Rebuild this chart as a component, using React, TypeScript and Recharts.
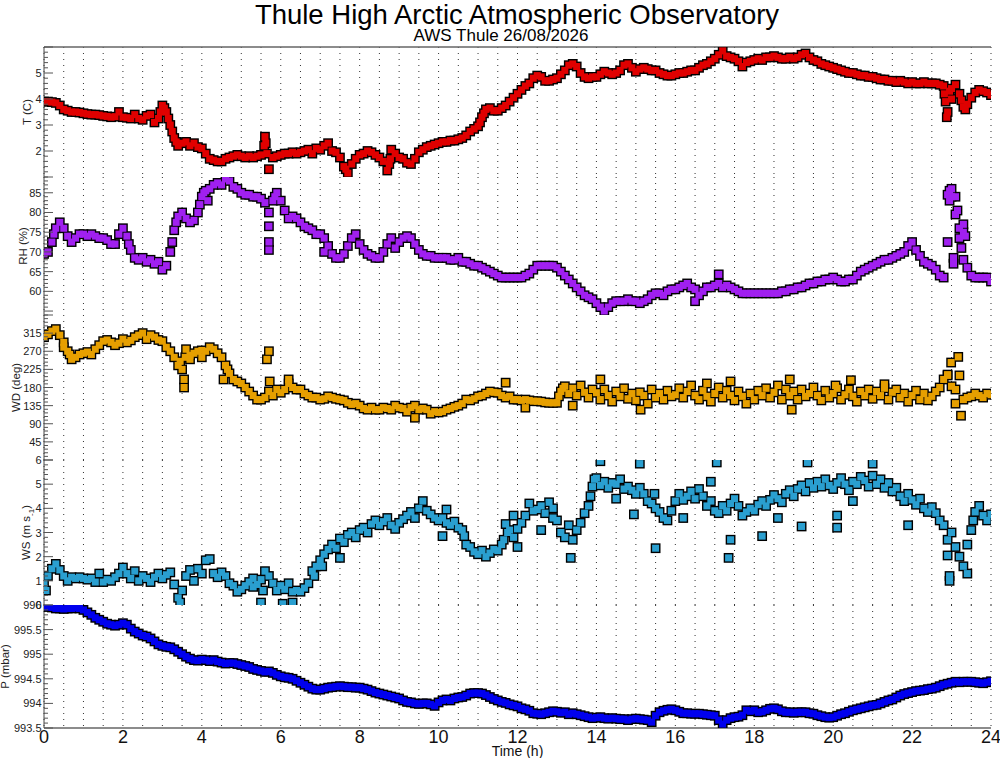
import React from 'react';
import { ScatterChart, Scatter, XAxis, YAxis, CartesianGrid, ReferenceLine } from 'recharts';

const FONT = '"Liberation Sans", Arial, Helvetica, sans-serif';
const WIDTH = 1000;
const RIGHT_GAP = 9;
const PAD = 8; // room above/below each panel so edge tick labels are not cut

// time axis (hours), data sampled every 0.1 h
const HALF_HOURS = Array.from({ length: 49 }, (_, i) => i / 2);
const HOUR_LABELS = [0, 2, 4, 6, 8, 10, 12, 14, 16, 18, 20, 22, 24];

const T_VALUES = [
  3.9, 3.9, 3.88, 3.85, 3.75, 3.6, 3.55, 3.5, 3.5, 3.48,
  3.45, 3.42, 3.4, 3.4, 3.38, 3.35, 3.33, 3.3, 3.32, 3.5,
  3.3, 3.28, 3.25, 3.4, 3.25, 3.2, 3.35, 3.4, 3.1, 3.25,
  3.75, 3.5, 3.0, 2.5, 2.2, 2.3, 2.35, 2.2, 2.3, 2.15,
  2.1, 1.9, 1.7, 1.65, 1.6, 1.6, 1.7, 1.75, 1.8, 1.85,
  1.8, 1.75, 1.8, 1.75, 1.8, 1.85, 2.55, 1.3, 1.75, 1.8,
  1.85, 1.9, 1.9, 1.95, 1.9, 1.95, 2.0, 2.05, 1.9, 2.1,
  2.05, 2.2, 2.3, 2.0, 1.95, 1.75, 1.4, 1.15, 1.5, 1.7,
  1.85, 1.9, 2.0, 1.95, 1.85, 1.75, 1.6, 1.25, 2.05, 1.9,
  1.75, 1.7, 1.55, 1.5, 1.7, 1.95, 2.05, 2.15, 2.2, 2.25,
  2.3, 2.35, 2.35, 2.4, 2.4, 2.45, 2.5, 2.6, 2.75, 2.85,
  2.95, 3.3, 3.6, 3.65, 3.55, 3.55, 3.65, 3.75, 3.9, 4.05,
  4.2, 4.35, 4.5, 4.6, 4.8, 4.9, 4.85, 4.7, 4.7, 4.75,
  4.8, 4.95, 5.1, 5.3, 5.35, 5.25, 5.0, 4.85, 4.8, 4.85,
  4.85, 4.95, 5.05, 5.0, 4.95, 5.0, 5.1, 5.3, 5.35, 5.2,
  5.05, 5.15, 5.2, 5.15, 5.1, 5.1, 5.0, 4.95, 4.9, 4.9,
  4.95, 5.0, 5.0, 5.05, 5.1, 5.1, 5.2, 5.3, 5.35, 5.45,
  5.55, 5.7, 5.85, 5.65, 5.6, 5.55, 5.45, 5.25, 5.4, 5.45,
  5.5, 5.55, 5.5, 5.6, 5.6, 5.65, 5.6, 5.55, 5.55, 5.6,
  5.55, 5.6, 5.7, 5.75, 5.6, 5.5, 5.45, 5.35, 5.3, 5.25,
  5.2, 5.15, 5.1, 5.05, 5.0, 5.0, 4.95, 4.9, 4.9, 4.85,
  4.85, 4.8, 4.75, 4.75, 4.7, 4.7, 4.65, 4.7, 4.65, 4.6,
  4.65, 4.6, 4.6, 4.65, 4.6, 4.6, 4.6, 4.55, 4.5, 3.5,
  4.0, 4.55, 4.2, 3.7, 3.8, 4.05, 4.25, 4.35, 4.3, 4.25,
  4.15,
];
const T_EXTRA = [
  [22.85, 3.9], [22.88, 3.3], [22.95, 4.3], [23.0, 4.4], [5.62, 2.3], [8.75, 1.5], [7.65, 1.3],
  [2.95, 3.5], [3.05, 3.65], [3.15, 3.25], [3.25, 2.75], [3.35, 2.35], [11.05, 3.1], [11.15, 3.45],
  [5.65, 1.9], [5.58, 2.2], [8.78, 1.7], [22.82, 4.2], [23.25, 3.95], [23.35, 3.6],
];

const RH_VALUES = [
  69.5, 70, 72.5, 76, 77.5, 76, 74, 72.5, 73.5, 74.5,
  74.5, 74, 74.5, 74, 73.5, 73.5, 73, 72, 72, 74.5,
  76, 74, 70.5, 68.5, 68, 68.5, 67.5, 68, 67, 67.5,
  65.5, 66.5, 70, 75.5, 79, 80, 78.5, 77.5, 78, 80,
  84, 85.5, 86, 87, 87.5, 87, 88.5, 88, 86.5, 86,
  85, 84.5, 84.5, 84, 84, 83.5, 82.5, 80, 83, 85,
  83, 80.5, 78.5, 79, 78.5, 77.5, 76.5, 76, 75.5, 74.5,
  74.5, 73.5, 71.5, 69.5, 68.5, 68.5, 69.5, 71.5, 73.5, 74.5,
  72, 70.5, 69.5, 69, 68.5, 68.5, 70, 72, 73.5, 71,
  72.5, 73.5, 74, 73.5, 72, 70.5, 69.5, 69, 69, 68.5,
  68.5, 68.5, 68.5, 68, 68, 68.5, 67.5, 67.5, 67, 66.5,
  66.5, 66, 65.5, 65, 64.5, 64, 63.5, 63.5, 63.5, 63.5,
  63.5, 63.5, 64, 64.5, 65.5, 66.5, 66.5, 66.5, 66.5, 66.5,
  66, 65, 64, 63, 62, 61, 60, 59, 58.5, 58,
  57, 56, 55, 56, 57, 57.5, 57.5, 57.5, 58, 57.5,
  57.5, 57, 57.5, 58, 59, 59.5, 59.5, 59, 60, 60.5,
  60.5, 61, 61.5, 62, 61, 60.5, 59, 60, 61, 61,
  61.5, 62, 61, 61.5, 61, 60.5, 60, 59.5, 59.5, 59.5,
  59.5, 59.5, 59.5, 59.5, 59.5, 59.5, 59.5, 60, 60, 60.5,
  60.5, 61, 61, 61.5, 62, 62, 62.5, 62.5, 63, 63,
  63.5, 63, 62.5, 62.5, 63, 63, 64, 65, 65.5, 66,
  66.5, 67, 67.5, 68, 68, 68.5, 69, 69.5, 70, 71.5,
  72.5, 70.5, 69, 67.5, 67, 66.5, 65.5, 64, 63.5, 84.5,
  84, 79.5, 76, 75, 66, 64, 63.5, 63.5, 63.5, 63.5,
  62.5,
];
const RH_EXTRA = [
  [4.15, 83], [5.7, 76.5], [5.7, 72.5], [5.7, 70.5], [7.1, 70], [16.5, 57.5], [17.1, 64.3],
  [22.9, 72.5], [22.95, 85.5], [23.0, 86], [22.95, 83], [23.05, 68.5], [23.05, 67], [23.1, 84],
  [23.15, 80.5], [23.2, 73.5], [23.25, 71], [23.3, 77], [23.3, 68], [23.35, 74],
  [3.25, 72.5], [3.35, 77.5], [3.95, 82], [4.05, 85], [0.25, 74.5], [5.85, 84], [2.15, 72],
];

const WD_VALUES = [
  305, 312, 320, 325, 310, 292, 270, 250, 255, 262,
  265, 268, 262, 275, 285, 295, 298, 292, 285, 290,
  300, 292, 297, 305, 310, 315, 300, 310, 305, 298,
  295, 280, 270, 255, 235, 225, 275, 260, 265, 270,
  272, 270, 280, 275, 265, 255, 235, 215, 200, 195,
  190, 180, 170, 160, 150, 150, 155, 170, 160, 175,
  167, 175, 190, 180, 175, 175, 165, 160, 155, 155,
  150, 152, 158, 155, 152, 150, 148, 142, 138, 140,
  135, 128, 125, 130, 125, 125, 130, 128, 125, 135,
  130, 128, 120, 130, 135, 125, 128, 125, 115, 120,
  118, 120, 125, 128, 132, 135, 140, 150, 148, 152,
  158, 160, 165, 170, 168, 167, 160, 155, 158, 150,
  150, 148, 150, 148, 146, 146, 145, 143, 142, 142,
  142, 170, 183, 165, 178, 160, 185, 168, 155, 175,
  167, 150, 175, 160, 145, 170, 158, 178, 152, 165,
  148, 168, 160, 140, 175, 155, 165, 150, 172, 158,
  162, 178, 155, 170, 185, 160, 150, 172, 158, 145,
  165, 180, 155, 172, 160, 148, 170, 158, 140, 165,
  150, 172, 160, 178, 155, 168, 185, 150, 175, 160,
  170, 150, 175, 158, 165, 180, 160, 148, 172, 155,
  165, 178, 150, 162, 175, 158, 145, 170, 160, 175,
  152, 170, 160, 178, 150, 168, 175, 155, 165, 145,
  160, 172, 150, 165, 148, 158, 170, 180, 200, 210,
  183, 175, 210, 150, 155, 158, 165, 160, 155, 165,
  162,
];
const WD_EXTRA = [
  [0.5, 280], [3.55, 200], [3.55, 180], [3.7, 250], [4.0, 255], [4.55, 200], [5.65, 250], [5.7, 270],
  [5.72, 195], [6.2, 200], [11.7, 192], [14.1, 200], [15.12, 125], [16.8, 190], [18.9, 200], [18.95, 125],
  [20.06, 185], [20.45, 198], [22.9, 212], [22.99, 242], [23.17, 256], [23.1, 140], [23.24, 110],
  [13.4, 135], [17.4, 195], [21.3, 188], [12.2, 130], [9.4, 105],
  [0.65, 262], [3.45, 245], [3.58, 255], [4.65, 225], [13.05, 158], [13.15, 178],
];

const WS_VALUES = [
  0.9, 1.2, 1.5, 1.7, 1.45, 1.2, 1.0, 1.15, 1.1, 1.15,
  1.1, 1.05, 1.1, 0.95, 1.3, 0.95, 1.05, 1.0, 1.15, 1.3,
  1.55, 1.3, 1.1, 1.4, 1.0, 1.2, 1.1, 0.95, 1.15, 1.3,
  1.1, 1.25, 1.35, 0.85, 0.3, 0.6, 1.2, 1.45, 1.0, 1.5,
  1.3, 1.85, 1.9, 1.3, 1.15, 1.35, 1.2, 0.9, 0.8, 0.55,
  0.65, 0.8, 0.95, 1.1, 0.85, 1.05, 1.4, 1.2, 0.9, 0.6,
  0.8, 0.65, 0.9, 0.55, 0.6, 0.55, 0.7, 0.9, 1.4, 1.6,
  1.85, 2.1, 2.3, 2.5, 2.35, 2.75, 2.6, 2.9, 3.0, 2.8,
  3.1, 3.2, 3.0, 3.35, 3.5, 3.3, 3.45, 3.6, 3.3, 3.15,
  3.4, 3.55, 3.7, 3.85, 3.6, 4.0, 4.3, 3.9, 3.75, 3.6,
  3.5, 3.6, 3.4, 3.3, 3.45, 3.2, 3.1, 2.5, 2.4, 2.2,
  2.1, 2.25, 2.0, 2.15, 2.3, 2.25, 2.5, 3.35, 3.1, 2.8,
  3.15, 3.4, 3.7, 4.2, 3.9, 3.95, 4.1, 3.8, 4.25, 4.0,
  3.5, 3.0, 2.8, 3.3, 2.7, 3.1, 3.4, 3.8, 4.1, 4.9,
  5.25, 4.95, 5.1, 4.85, 5.05, 5.0, 5.2, 4.8, 4.9, 4.75,
  4.6, 4.85, 4.6, 4.3, 4.2, 4.0, 3.85, 3.6, 3.5, 3.9,
  4.3, 4.6, 4.35, 4.5, 4.7, 4.4, 4.8, 4.5, 4.1, 4.3,
  3.9, 3.8, 4.1, 3.9, 4.2, 4.4, 4.1, 3.7, 3.85, 4.0,
  3.9, 4.15, 4.3, 4.1, 4.35, 4.55, 4.4, 4.25, 4.6, 4.75,
  4.5, 4.8, 4.95, 4.7, 5.05, 4.85, 5.1, 4.9, 5.2, 4.95,
  4.8, 5.05, 5.25, 5.0, 4.75, 5.1, 5.0, 5.3, 5.15, 4.9,
  5.35, 5.0, 5.2, 4.85, 5.05, 4.7, 4.85, 4.5, 4.3, 4.6,
  4.35, 4.15, 4.4, 4.0, 3.85, 4.05, 3.8, 3.5, 3.3, 2.7,
  3.0, 2.4, 2.0, 1.6, 2.5, 3.1, 3.85, 4.1, 3.7, 3.5,
  3.75,
];
const WS_EXTRA = [
  [0.05, 0.6], [3.45, 0.1], [5.3, 0.75], [5.5, 0.1], [5.55, 0.6], [6.05, 0.05], [6.3, 0.1], [7.5, 1.95],
  [10.1, 2.85], [10.2, 3.95], [11.65, 2.7], [12.6, 3.1], [13.35, 1.95], [14.1, 5.95], [14.95, 3.75],
  [15.1, 5.85], [15.47, 4.6], [15.5, 2.35], [17.05, 5.9], [17.35, 1.95], [17.4, 2.7], [18.2, 2.85],
  [19.2, 3.25], [19.35, 5.9], [20.1, 3.2], [20.1, 3.7], [21.0, 5.85], [21.9, 3.3], [22.9, 2.05],
  [22.95, 1.2], [22.95, 1.0], [23.4, 1.3], [12.0, 2.4], [12.9, 3.6], [16.2, 3.6], [18.6, 3.6],
  [14.5, 4.4], [16.9, 5.1], [20.5, 4.3], [11.9, 3.7],
  [6.85, 1.2], [7.05, 1.6], [10.65, 2.85], [11.75, 3.0], [13.85, 4.5], [13.95, 5.2], [23.55, 3.5],
];

const P_VALUES = [
  995.97, 995.96, 995.95, 995.93, 995.93, 995.92, 995.93, 995.93, 995.94, 995.93,
  995.9, 995.85, 995.8, 995.74, 995.7, 995.66, 995.62, 995.6, 995.58, 995.6,
  995.63, 995.6, 995.52, 995.46, 995.42, 995.38, 995.36, 995.32, 995.26, 995.2,
  995.17, 995.15, 995.14, 995.1, 995.05, 995.0, 994.95, 994.91, 994.88, 994.87,
  994.89, 994.88, 994.86, 994.88, 994.85, 994.83, 994.81, 994.82, 994.82, 994.8,
  994.78, 994.76, 994.74, 994.7, 994.68, 994.66, 994.64, 994.65, 994.62, 994.58,
  994.55, 994.53, 994.52, 994.5, 994.46, 994.42, 994.38, 994.34, 994.3, 994.28,
  994.28, 994.3, 994.32, 994.33, 994.34, 994.35, 994.34, 994.33, 994.33, 994.32,
  994.32, 994.3, 994.28, 994.25, 994.22, 994.2, 994.18, 994.16, 994.14, 994.12,
  994.1, 994.06, 994.03, 994.02, 994.0, 993.99, 994.0, 994.0, 993.98, 993.95,
  994.02, 994.06, 994.08, 994.06, 994.1, 994.12, 994.13, 994.16, 994.2, 994.21,
  994.21, 994.2, 994.17, 994.13, 994.09, 994.06, 994.03, 994.01, 993.98, 993.96,
  993.94, 993.9, 993.88, 993.85, 993.8, 993.79, 993.78, 993.8, 993.82, 993.84,
  993.83, 993.81, 993.82, 993.78, 993.8, 993.78, 993.76, 993.74, 993.72, 993.7,
  993.71, 993.72, 993.7, 993.69, 993.7, 993.69, 993.68, 993.68, 993.66, 993.68,
  993.69, 993.68, 993.67, 993.66, 993.62, 993.75, 993.82, 993.85, 993.87, 993.88,
  993.86, 993.83, 993.8, 993.8, 993.79, 993.79, 993.79, 993.78, 993.77, 993.76,
  993.75, 993.66, 993.58, 993.66, 993.7, 993.72, 993.73, 993.76, 993.86, 993.84,
  993.86, 993.82, 993.83, 993.86, 993.89, 993.9, 993.88, 993.84, 993.82, 993.82,
  993.81, 993.82, 993.82, 993.82, 993.8, 993.79, 993.76, 993.74, 993.72, 993.71,
  993.72, 993.75, 993.78, 993.8, 993.83, 993.86, 993.88, 993.9, 993.92, 993.94,
  993.96, 993.97, 994.0, 994.03, 994.06, 994.08, 994.12, 994.16, 994.19, 994.21,
  994.23, 994.25, 994.26, 994.27, 994.29, 994.3, 994.32, 994.35, 994.38, 994.4,
  994.42, 994.44, 994.43, 994.44, 994.44, 994.44, 994.43, 994.42, 994.41, 994.43,
  994.45,
];

// y-axis tick labels per panel
const T_TICK_LABELS = [2, 3, 4, 5];
const RH_TICK_LABELS = [60, 65, 70, 75, 80, 85];
const WD_TICK_LABELS = [45, 90, 135, 180, 225, 270, 315];
const WS_TICK_LABELS = [0, 1, 2, 3, 4, 5, 6];
const P_TICK_LABELS = [993.5, 994, 994.5, 995, 995.5, 996];

const makeTicks = (min: number, max: number, step: number) =>
  Array.from({ length: Math.round((max - min) / step) + 1 }, (_, i) => +(min + i * step).toFixed(4));

const isMultiple = (v: number, step: number) => Math.abs(v / step - Math.round(v / step)) < 1e-6;
const inList = (list: number[], v: number) => list.some((l) => Math.abs(l - v) < 1e-6);

const toRows = (values: number[], extra: number[][] = []) =>
  values.map((v, i) => ({ t: i / 10, v })).concat(extra.map(([t, v]) => ({ t, v })));

const makeLeftTick = (labels: number[], majorStep: number) => (props: any) => {
  const { x, y, payload } = props;
  const v = payload.value;
  const len = isMultiple(v, majorStep) ? 9 : 4;
  return (
    <g>
      <line x1={x} x2={x + len} y1={y} y2={y} stroke="#555" strokeWidth={1} />
      {inList(labels, v) && (
        <text x={x - 2.5} y={y} dy={4} textAnchor="end" fontSize={11} fill="#222" fontFamily={FONT}>
          {v}
        </text>
      )}
    </g>
  );
};

const makeRightTick = (majorStep: number) => (props: any) => {
  const { x, y, payload } = props;
  const len = isMultiple(payload.value, majorStep) ? 9 : 4;
  return <line x1={x} x2={x - len} y1={y} y2={y} stroke="#555" strokeWidth={1} />;
};

const timeTick = (props: any) => {
  const { x, y, payload } = props;
  if (!HOUR_LABELS.includes(payload.value)) return <g />;
  return (
    <text x={x} y={y + 15} textAnchor="middle" fontSize={18} fill="#111" fontFamily={FONT}>
      {payload.value}
    </text>
  );
};

const noTick = () => <g />;

const outlineShape = (p: any) => <rect x={p.cx - 4.9} y={p.cy - 4.9} width={9.8} height={9.8} fill="#000" />;
const fillShape = (color: string) => (p: any) => (
  <rect x={p.cx - 3.5} y={p.cy - 3.5} width={7} height={7} fill={color} />
);

interface PanelProps {
  top: number;
  height: number;
  rows: { t: number; v: number }[];
  color: string;
  domain: [number, number];
  ticks: number[];
  majorStep: number;
  labels: number[];
  title: React.ReactNode;
  titleX: number;
  last?: boolean;
  topBorder?: boolean;
}

function Panel({ top, height, rows, color, domain, ticks, majorStep, labels, title, titleX, last, topBorder }: PanelProps) {
  const axisTitle = (props: any) => {
    const vb = props.viewBox;
    const cy = vb.y + vb.height / 2;
    return (
      <text
        x={titleX}
        y={cy}
        transform={`rotate(-90 ${titleX} ${cy})`}
        textAnchor="middle"
        fontSize={11.5}
        fill="#222"
        fontFamily={FONT}
      >
        {title}
      </text>
    );
  };
  const timeTitle = (props: any) => {
    const vb = props.viewBox;
    return (
      <text x={vb.x + vb.width / 2} y={vb.y + 27.5} textAnchor="middle" fontSize={14} fill="#111" fontFamily={FONT}>
        Time (h)
      </text>
    );
  };
  const axisH = last ? 30 : 0;
  const bottomPad = last ? 0 : PAD;
  return (
    <div style={{ position: 'absolute', left: 0, top: top - PAD }}>
      <ScatterChart
        width={WIDTH}
        height={height + axisH + PAD + bottomPad}
        margin={{ top: PAD, right: RIGHT_GAP, bottom: bottomPad, left: 0 }}
      >
        <CartesianGrid horizontal={false} yAxisId="left" stroke="#333" strokeDasharray="1 5" />
        <XAxis
          type="number"
          dataKey="t"
          domain={[0, 24]}
          ticks={HALF_HOURS}
          interval={0}
          tickSize={0}
          tickMargin={0}
          tickLine={false}
          height={axisH}
          axisLine={{ stroke: '#666', strokeWidth: 1.5 }}
          tick={last ? timeTick : noTick}
          label={last ? timeTitle : undefined}
          allowDataOverflow
        />
        <YAxis
          yAxisId="left"
          type="number"
          dataKey="v"
          domain={domain}
          ticks={ticks}
          interval={0}
          width={44}
          tickSize={0}
          tickMargin={0}
          tickLine={false}
          axisLine={{ stroke: '#444', strokeWidth: 1 }}
          tick={makeLeftTick(labels, majorStep)}
          label={axisTitle}
          allowDataOverflow
        />
        <YAxis
          yAxisId="right"
          orientation="right"
          type="number"
          domain={domain}
          ticks={ticks}
          interval={0}
          width={0}
          tickSize={0}
          tickMargin={0}
          tickLine={false}
          axisLine={{ stroke: '#666', strokeWidth: 1 }}
          tick={makeRightTick(majorStep)}
          allowDataOverflow
        />
        {topBorder && <ReferenceLine yAxisId="left" y={domain[1]} stroke="#666" strokeWidth={1.5} />}
        <Scatter yAxisId="left" data={rows} shape={outlineShape} isAnimationActive={false} />
        <Scatter yAxisId="left" data={rows} shape={fillShape(color)} isAnimationActive={false} />
      </ScatterChart>
    </div>
  );
}

export default function App() {
  return (
    <div
      style={{
        position: 'absolute',
        left: 0,
        top: 0,
        width: WIDTH,
        height: 758,
        background: '#fff',
        fontFamily: FONT,
        overflow: 'hidden',
      }}
    >
      <svg width={WIDTH} height={47} style={{ position: 'absolute', left: 0, top: 0 }}>
        <text x={517} y={23.5} textAnchor="middle" fontSize={27.5} fill="#000" fontFamily={FONT}>
          Thule High Arctic Atmospheric Observatory
        </text>
        <text x={501} y={41} textAnchor="middle" fontSize={17} fill="#000" fontFamily={FONT}>
          AWS Thule 26/08/2026
        </text>
      </svg>
      <Panel
        top={47}
        height={130}
        rows={toRows(T_VALUES, T_EXTRA)}
        color="#E00000"
        domain={[1, 6]}
        ticks={makeTicks(1, 6, 0.2)}
        majorStep={1}
        labels={T_TICK_LABELS}
        title="T (C)"
        titleX={31}
        topBorder
      />
      <Panel
        top={177}
        height={138}
        rows={toRows(RH_VALUES, RH_EXTRA)}
        color="#A020F0"
        domain={[54, 89]}
        ticks={makeTicks(54, 89, 1)}
        majorStep={5}
        labels={RH_TICK_LABELS}
        title="RH (%)"
        titleX={27}
      />
      <Panel
        top={315}
        height={145}
        rows={toRows(WD_VALUES, WD_EXTRA)}
        color="#E69F00"
        domain={[0, 360]}
        ticks={makeTicks(0, 360, 9)}
        majorStep={45}
        labels={WD_TICK_LABELS}
        title="WD (deg)"
        titleX={20}
      />
      <Panel
        top={460}
        height={145}
        rows={toRows(WS_VALUES, WS_EXTRA)}
        color="#2A9FD0"
        domain={[0, 6]}
        ticks={makeTicks(0, 6, 0.2)}
        majorStep={1}
        labels={WS_TICK_LABELS}
        title={
          <>
            WS (m s
            <tspan fontSize={8} dy={4}>
              -1
            </tspan>
            <tspan dy={-4}>)</tspan>
          </>
        }
        titleX={30}
      />
      <Panel
        top={605}
        height={123}
        rows={toRows(P_VALUES)}
        color="#0000EE"
        domain={[993.5, 996]}
        ticks={makeTicks(993.5, 996, 0.1)}
        majorStep={0.5}
        labels={P_TICK_LABELS}
        title="P (mbar)"
        titleX={9}
        last
      />
    </div>
  );
}
